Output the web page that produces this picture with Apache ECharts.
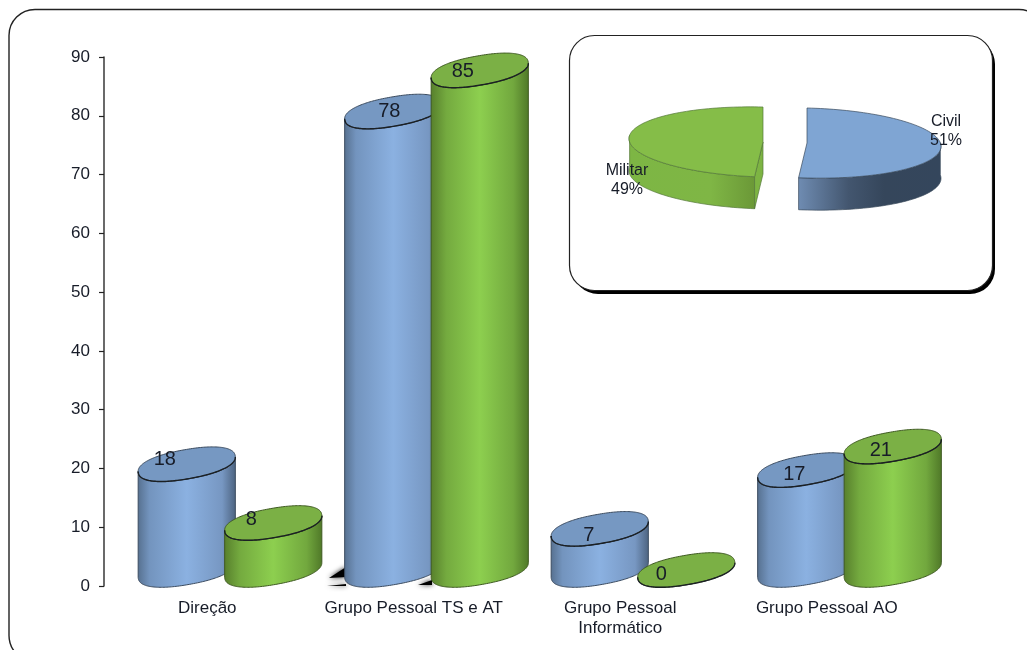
<!DOCTYPE html>
<html>
<head>
<meta charset="utf-8">
<title>Pessoal civil e militar por grupo</title>
<script src="https://cdn.jsdelivr.net/npm/echarts@6/dist/echarts.min.js"></script>
<style>
  html, body { margin: 0; padding: 0; background: #fff; }
  #chart { width: 1027px; height: 650px; }
</style>
</head>
<body>
<div id="chart"></div>
<script>
// Staff counts per group
const categories = ['Direção', 'Grupo Pessoal TS e AT', 'Grupo Pessoal\nInformático', 'Grupo Pessoal AO'];
const civilValues = [18, 78, 7, 17];
const militaryValues = [8, 85, 0, 21];
const yTicks = { min: 0, max: 90, interval: 10 };

// Overall share
const shareNames = ['Civil', 'Militar'];
const shareValues = [51, 49];

// Cylinder geometry: a tilted, slightly squared ellipse whose centre sits above the axis value
const CYL = { a: 49.2, b: 14.6, tilt: 10 * Math.PI / 180, lift: 16, round: 0.88 };
const SLOT = { civil: -20.5, military: 66 };
const labelNudge = {
  civil: [[-22, -5], [-4, 0], [-11, 7], [-12, 4]],
  military: [[-22, -3], [-17, 1], [-25, 4], [-12, 4]]
};

const hGrad = (stops) => ({
  type: 'linear', x: 0, y: 0, x2: 1, y2: 0,
  colorStops: stops.map(([offset, color]) => ({ offset, color }))
});

const STYLES = {
  civil: {
    body: hGrad([[0, '#56708f'], [0.12, '#7394be'], [0.5, '#8bb1e1'], [0.86, '#7797c2'], [1, '#4c6380']]),
    cap: '#7698c2', edge: '#3c4c60'
  },
  military: {
    body: hGrad([[0, '#577f2c'], [0.16, '#74aa3f'], [0.5, '#8dcf4f'], [0.84, '#72a83e'], [1, '#4f7828']]),
    cap: '#7bb045', edge: '#3f5a22'
  }
};

const SAMPLES = 192;

function ellipsePoint(cx, cy, t) {
  const c = Math.cos(t), s = Math.sin(t);
  const u = CYL.a * Math.sign(c) * Math.pow(Math.abs(c), CYL.round);
  const v = CYL.b * Math.sign(s) * Math.pow(Math.abs(s), CYL.round);
  return [cx + u * Math.cos(CYL.tilt) + v * Math.sin(CYL.tilt),
          cy - u * Math.sin(CYL.tilt) + v * Math.cos(CYL.tilt)];
}

function capOutline(cx, cy) {
  const pts = [];
  for (let i = 0; i < SAMPLES; i++) pts.push(ellipsePoint(cx, cy, 2 * Math.PI * i / SAMPLES));
  return pts;
}

// Front half of the outline, from the rightmost point round the bottom to the leftmost
function lowerArc(cx, cy, reverse) {
  const pts = capOutline(cx, cy);
  let right = 0, left = 0;
  pts.forEach((p, i) => {
    if (p[0] > pts[right][0]) right = i;
    if (p[0] < pts[left][0]) left = i;
  });
  const arc = [];
  for (let i = right; ; i = (i + 1) % SAMPLES) {
    arc.push(pts[i]);
    if (i === left) break;
  }
  return reverse ? arc.reverse() : arc;
}

function cylinderItem(kind) {
  return function (params, api) {
    const style = STYLES[kind];
    const top = api.coord([api.value(0), api.value(1)]);
    const base = api.coord([api.value(0), 0]);
    const cx = base[0] + SLOT[kind];
    const topY = top[1] - CYL.lift;
    const baseY = base[1] - CYL.lift;
    const nudge = labelNudge[kind][params.dataIndex];
    const children = [];
    if (api.value(1) > 0) {
      children.push({
        type: 'polygon',
        shape: { points: lowerArc(cx, baseY, false).concat(lowerArc(cx, topY, true)) },
        style: { fill: style.body, stroke: style.edge, lineWidth: 1 }
      });
    }
    children.push({
      type: 'polygon',
      shape: { points: capOutline(cx, topY) },
      style: { fill: style.cap, stroke: style.edge, lineWidth: 1 }
    });
    children.push({
      type: 'polyline',
      shape: { points: lowerArc(cx, topY, false) },
      style: { fill: null, stroke: '#1b2024', lineWidth: 1.4 }
    });
    children.push({
      type: 'text',
      style: {
        x: cx + nudge[0], y: topY + nudge[1],
        text: String(api.value(1)),
        fill: '#171c28', font: '20px "Liberation Sans"',
        align: 'center', verticalAlign: 'middle'
      }
    });
    return { type: 'group', children };
  };
}

// Exploded 3D pie of the overall share, angles taken from the values
const PIE = { rx: 134, ry: 35, depth: 32, shear: 0.025, centres: [[807, 143], [763, 142]] };
const PIE_STYLES = [
  { top: '#7fa5d3', side: hGrad([[0, '#6f8cb2'], [0.35, '#43566f'], [0.6, '#35465b'], [1, '#34465c']]), edge: '#3b4a5c', facet: '#7fa5d3' },
  { top: '#85bd48', side: hGrad([[0, '#7db644'], [0.65, '#7fb645'], [1, '#6b9837']]), edge: '#55793a', facet: '#7db443' }
];

function pieItem(params, api) {
  const idx = params.dataIndex;
  const total = shareValues.reduce((s, v) => s + v, 0);
  const before = shareValues.slice(0, idx).reduce((s, v) => s + v, 0);
  const start = before / total * 2 * Math.PI;
  const end = start + api.value(0) / total * 2 * Math.PI;
  const [cx, cy] = PIE.centres[idx];
  const style = PIE_STYLES[idx];
  const at = (ang, drop) => [
    cx + PIE.rx * Math.sin(ang),
    cy - PIE.ry * Math.cos(ang) + PIE.shear * PIE.rx * Math.sin(ang) + (drop || 0)
  ];
  const arc = [];
  for (let i = 0; i <= 96; i++) arc.push(start + (end - start) * i / 96);

  // Outer wall: only the part of the rim that faces the viewer
  const rimFront = arc.filter((a) => Math.cos(a) < 0.12);
  const children = [{
    type: 'polygon',
    shape: { points: rimFront.map((a) => at(a, 0)).concat(rimFront.slice().reverse().map((a) => at(a, PIE.depth))) },
    style: { fill: style.side, stroke: style.edge, lineWidth: 0.7 }
  }];
  // Cut face of the slice turned towards the viewer
  if (idx === 1) {
    children.push({
      type: 'polygon',
      shape: { points: [at(start, 0), [cx, cy], [cx, cy + PIE.depth], at(start, PIE.depth)] },
      style: { fill: style.facet, stroke: style.edge, lineWidth: 0.7 }
    });
  }
  children.push({
    type: 'polygon',
    shape: { points: [[cx, cy]].concat(arc.map((a) => at(a, 0))) },
    style: { fill: style.top, stroke: style.edge, lineWidth: 0.7 }
  });
  const labelPos = [[946, 131], [627, 180]][idx];
  children.push({
    type: 'text',
    style: {
      x: labelPos[0], y: labelPos[1],
      text: shareNames[idx] + '\n' + api.value(0) + '%',
      fill: '#171c28', font: '16px "Liberation Sans"', lineHeight: 19,
      align: 'center', verticalAlign: 'middle'
    }
  });
  return { type: 'group', children };
}

const smudge = (points) => ({
  type: 'polygon', z: 1, shape: { points },
  style: { fill: '#000', shadowBlur: 5, shadowColor: 'rgba(0,0,0,0.9)' }
});

const chart = echarts.init(document.getElementById('chart'), null, { renderer: 'canvas' });
chart.setOption({
  animation: false,
  backgroundColor: '#ffffff',
  graphic: [
    // Outer frame, running off the right and bottom of the page
    { type: 'rect', z: 0, shape: { x: 9, y: 9.5, width: 1036, height: 652, r: 26 },
      style: { fill: '#fff', stroke: '#222', lineWidth: 1.4 } },
    // Inset panel with its hard drop shadow
    { type: 'rect', z: 0, shape: { x: 573, y: 39, width: 422, height: 255, r: 25 }, style: { fill: '#000' } },
    { type: 'rect', z: 0, shape: { x: 569.5, y: 35.5, width: 423, height: 255, r: 25 },
      style: { fill: '#fff', stroke: '#222', lineWidth: 1.2 } },
    // Smudges on the floor around the tall blue column
    smudge([[346, 567], [346, 577], [329, 578]]),
    smudge([[346, 584], [346, 586], [327, 586]]),
    smudge([[418, 585], [432, 580], [432, 585]])
  ],
  grid: { left: 104, top: 57, width: 826, height: 529, containLabel: false },
  xAxis: {
    type: 'category',
    data: categories,
    axisLine: { show: false },
    axisTick: { show: false },
    axisLabel: {
      interval: 0, margin: 12, lineHeight: 20,
      fontFamily: 'Liberation Sans', fontSize: 17, color: '#171c28'
    }
  },
  yAxis: {
    type: 'value',
    min: yTicks.min, max: yTicks.max, interval: yTicks.interval,
    splitLine: { show: false },
    axisLine: { show: true, lineStyle: { color: '#444', width: 1.6 } },
    axisTick: { show: true, length: 5, lineStyle: { color: '#222', width: 1.2 } },
    axisLabel: { margin: 14, fontFamily: 'Liberation Sans', fontSize: 17, color: '#171c28' }
  },
  series: [
    { type: 'custom', name: 'Civil', renderItem: cylinderItem('civil'), clip: false, z: 2,
      encode: { x: 0, y: 1 }, data: civilValues.map((v, i) => [i, v]) },
    { type: 'custom', name: 'Militar', renderItem: cylinderItem('military'), clip: false, z: 3,
      encode: { x: 0, y: 1 }, data: militaryValues.map((v, i) => [i, v]) },
    { type: 'custom', name: 'Total', coordinateSystem: 'none', renderItem: pieItem, z: 4,
      data: shareValues.map((v) => [v]) }
  ]
});
</script>
</body>
</html>
